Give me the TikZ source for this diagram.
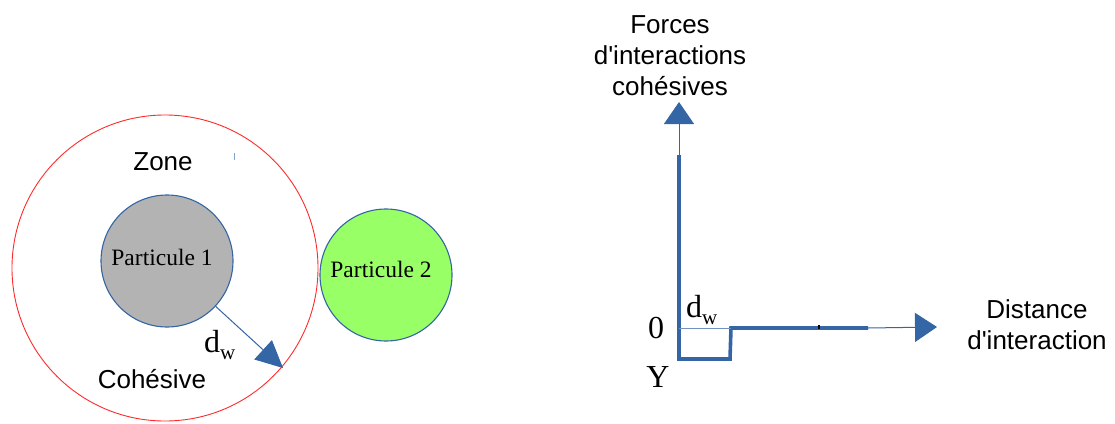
\documentclass[tikz,border=0pt]{standalone}
\usepackage{fontspec}
\setmainfont{Liberation Serif}
\newfontfamily\sansf{Liberation Sans}
\usetikzlibrary{arrows.meta}
\definecolor{lblue}{HTML}{3465A4}
\definecolor{pgray}{HTML}{B3B3B3}
\definecolor{pgreen}{HTML}{99FF66}
\definecolor{zred}{HTML}{FF2A2A}
\tikzset{
  sanslbl/.style={inner sep=0pt, font=\sansf\fontsize{26}{31}\selectfont, align=center},
  seriflbl/.style={inner sep=0pt, font=\fontsize{32}{32}\selectfont},
  ptext/.style={inner sep=0pt, font=\fontsize{23.5}{23.5}\selectfont},
  particle/.style={circle, draw=lblue, line width=1.1pt, minimum size=132pt, inner sep=0pt},
  thinax/.style={draw=lblue, line width=1pt},
  thickax/.style={draw=lblue, line width=3.6pt},
}
\newcommand{\dwlbl}{d\raisebox{-7pt}{\fontsize{21}{21}\selectfont w}}
\begin{document}
\begin{tikzpicture}[x=1pt,y=-1pt]
\useasboundingbox (0,0) rectangle (1115,423);
% ---- left part
\node[circle, draw=zred, line width=0.9pt, minimum size=306pt, inner sep=0pt] (zone) at (165,268) {};
\node[particle, fill=pgray] (p1) at (167,261) {};
\node[particle, fill=pgreen] (p2) at (386,275) {};
\node[ptext] (p1t) at (162,257) {Particule 1};
\node[ptext] (p2t) at (381,269) {Particule 2};
\node[sanslbl] (zonet) at (163,162) {Zone};
\node[sanslbl] (cohet) at (152,379) {Cohésive};
\coordinate (dtip) at (283,368);
\draw[lblue, line width=1pt, -{Triangle[length=27pt,width=26pt]}] (p1.-43) -- (dtip);
\node[seriflbl, anchor=base west] (dwl) at (204,352) {\dwlbl};
\draw[lblue!60, line width=1pt] (234,153) -- (234,160);
% ---- right part
\coordinate (ytop) at (679,102);
\coordinate (ymid) at (679,155);
\coordinate (ybot) at (679,359);
\coordinate (sbot) at (730,359);
\coordinate (stop) at (731,328);
\coordinate (xmid) at (868,328);
\coordinate (xtip) at (937,327);
\coordinate (orig) at (679,328);
\draw[thinax, -{Triangle[length=22pt,width=30pt]}] (ymid) -- (ytop);
\draw[thickax, line join=miter] (ymid) -- (ybot) -- (sbot) -- (stop) -- (xmid);
\draw[thinax, -{Triangle[length=22pt,width=29pt]}] (xmid) -- (xtip);
\draw[lblue!70, line width=0.8pt] (orig) -- (stop);
\draw[black, line width=1.2pt] (819,325) -- (819,329);
\node[sanslbl, anchor=north] (ylab) at (670,15) {Forces\\d'interactions\\cohésives};
\node[sanslbl, anchor=north] (xlab) at (1037,299) {Distance\\d'interaction};
\node[seriflbl, anchor=base] (zero) at (656,338) {0};
\node[seriflbl, anchor=base] (gam) at (658,387) {Y};
\node[seriflbl, anchor=base west] (dwr) at (686,317) {\dwlbl};
\end{tikzpicture}
\end{document}
